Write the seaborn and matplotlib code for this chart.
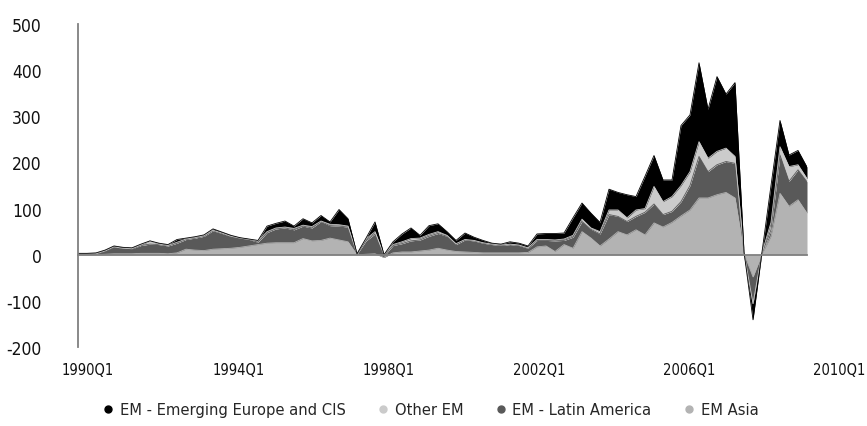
import numpy as np
import matplotlib
matplotlib.use("Agg")
import matplotlib.pyplot as plt
from matplotlib import font_manager as fm
from matplotlib.lines import Line2D
import seaborn as sns

# quarterly flows, 1990Q1 - 2010Q2
quarters = [f"{y}Q{q}" for y in range(1990, 2011) for q in range(1, 5)][:82]

em_asia = [0, 0, 0, 1, 2, 2, 2, 3, 3, 3, 2, 4, 12, 10, 9, 12, 13, 14, 16, 19,
           22, 25, 26, 26, 26, 35, 30, 31, 36, 32, 28, 0, 1, 2, -6, 4, 6, 6, 8, 10,
           14, 10, 7, 6, 5, 4, 4, 4, 4, 4, 5, 17, 19, 7, 22, 14, 50, 36, 19, 34,
           50, 43, 54, 43, 69, 60, 70, 84, 97, 123, 123, 130, 135, 123, 3, -48, 2, 40, 133, 105,
           119, 90]
em_latam = [1, 1, 2, 7, 15, 12, 11, 17, 20, 19, 17, 21, 21, 26, 31, 40, 33, 26, 20, 14,
            5, 23, 30, 32, 28, 27, 28, 41, 27, 30, 32, 1, 29, 43, 3, 16, 18, 24, 24, 30,
            32, 30, 15, 26, 25, 21, 18, 16, 18, 16, 9, 14, 12, 23, 9, 24, 22, 19, 26, 53,
            33, 29, 29, 49, 41, 27, 24, 31, 53, 90, 57, 65, 67, 75, 1, -58, 1, 14, 83, 54,
            65, 68]
other_em = [0, 0, 0, 0, 0, 0, 0, 1, 7, 1, 1, 2, 1, 1, 1, 1, 1, 0, 0, 0,
            3, 2, 2, 2, 3, 2, 3, 1, 3, 3, 2, 1, 4, 5, 3, 2, 4, 5, 4, 4,
            4, 2, 2, 1, 1, 1, 1, 1, 1, 1, 1, 2, 2, 2, 3, 4, 5, 3, 5, 10,
            14, 8, 14, 8, 38, 28, 32, 35, 30, 32, 29, 29, 29, 15, 1, 0, 1, 16, 18, 32,
            11, 7]
em_europe = [2, 2, 2, 2, 2, 2, 2, 2, 0, 2, 2, 6, 2, 2, 2, 3, 2, 2, 1, 1,
             1, 12, 10, 13, 5, 14, 8, 12, 5, 33, 16, 0, 2, 21, 0, 6, 17, 23, 6, 19,
             17, 8, 7, 14, 7, 5, 2, 2, 5, 4, 4, 12, 13, 14, 13, 38, 35, 32, 20, 45,
             38, 50, 29, 70, 67, 47, 36, 130, 123, 171, 106, 162, 117, 160, 1, -35, 2, 80, 57, 25,
             31, 25]

year_labels = ["1990Q1", "1994Q1", "1998Q1", "2002Q1", "2006Q1", "2010Q1"]
y_ticks = [-200, -100, 0, 100, 200, 300, 400, 500]

col_asia, col_latam, col_other, col_europe = "#b3b3b3", "#595959", "#cbcbcb", "#000000"

sns.set_style("white")

# the original uses a narrow sans; take one if the machine has it
narrow = None
for f in fm.fontManager.ttflist:
    fn = f.fname.lower()
    if ("narrow" in fn or "condensed" in fn) and not any(
            k in fn for k in ["bold", "italic", "oblique", "light", "black", "thin", "medium"]):
        narrow = f
        break
if narrow is not None:
    plt.rcParams["font.family"] = [narrow.name, "DejaVu Sans"]
    plt.rcParams["font.stretch"] = narrow.stretch
    scale = 1.0
else:
    plt.rcParams["font.family"] = ["Liberation Sans", "DejaVu Sans"]
    scale = 0.95

fig = plt.figure(figsize=(8.67, 4.27), dpi=100)
ax = fig.add_axes([78 / 867, 79 / 427, 729 / 867, 323 / 427])

x = np.arange(len(quarters))
ax.stackplot(x, em_asia, em_latam, other_em, em_europe,
             colors=[col_asia, col_latam, col_other, col_europe], linewidth=0)

# thin outlines on the cumulative tops
cum = np.cumsum([em_asia, em_latam, other_em, em_europe], axis=0)
for top, c in zip(cum, [col_asia, col_latam, col_other, col_europe]):
    sns.lineplot(x=x, y=top, color=c, linewidth=0.6, ax=ax, legend=False)

ax.set_xlim(0, len(quarters) - 1)
ax.set_ylim(-200, 500)

axis_grey = "#808080"
for s in ["top", "right"]:
    ax.spines[s].set_visible(False)
ax.spines["left"].set_color(axis_grey)
ax.spines["left"].set_linewidth(1.3)
ax.spines["bottom"].set_position(("data", 0))
ax.spines["bottom"].set_color(axis_grey)
ax.spines["bottom"].set_linewidth(1.3)

ax.set_yticks(y_ticks)
ax.set_yticklabels([str(v) for v in y_ticks])
ax.tick_params(axis="y", direction="out", length=7, width=1.1, color=axis_grey,
               pad=19, labelsize=12.5 * scale, labelcolor="#111111")
ax.set_xticks(np.arange(0, len(quarters), 16))
ax.set_xticklabels([])
ax.tick_params(axis="x", direction="out", length=4, width=1.1, color=axis_grey)

# category labels sit a bit right of the tick marks
trans = ax.get_xaxis_transform()
for k, lab in enumerate(year_labels):
    ax.text(1.1 + 16.7 * k, -0.07, lab, transform=trans, ha="center", va="center",
            fontsize=10.5 * scale, color="#111111", clip_on=False)

handles = [Line2D([], [], marker="o", linestyle="none", markersize=5, color=c)
           for c in [col_europe, col_other, col_latam, col_asia]]
names = ["EM - Emerging Europe and CIS", "Other EM", "EM - Latin America", "EM Asia"]
fig.legend(handles, names, loc="center", bbox_to_anchor=(0.497, 0.038), ncol=4,
           frameon=False, fontsize=11.8 * scale, handlelength=0.6, handletextpad=0.4,
           columnspacing=2.0)

fig.savefig("out.png", dpi=100)
